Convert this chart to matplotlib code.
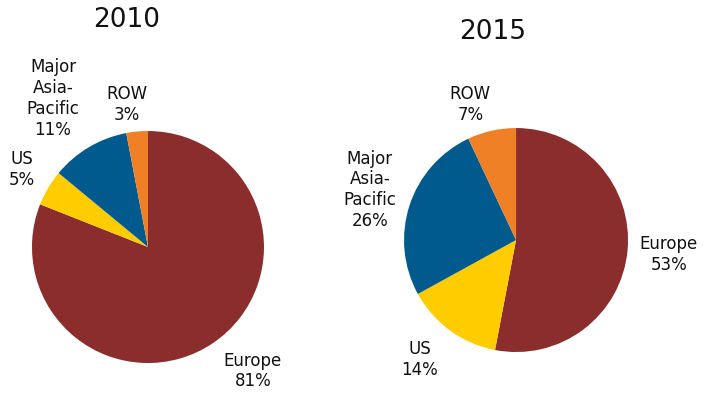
import numpy as np
import matplotlib
matplotlib.use('Agg')
import matplotlib.pyplot as plt

# ============================================================
# DATA
# ============================================================
regions = ['Europe', 'US', 'Major\nAsia-\nPacific', 'ROW']
share_2010 = [81, 5, 11, 3]
share_2015 = [53, 14, 26, 7]
years = ['2010', '2015']

colors = ['#8B2D2D', '#FFCC00', '#005A8E', '#F08026']

# label placement: (distance in radii, angle nudge in degrees)
label_pos_2010 = [(1.40, 6), (1.28, -1), (1.52, 2), (1.24, 3)]
label_pos_2015 = [(1.37, 0), (1.37, -3), (1.38, -1), (1.28, 6)]

# ============================================================
# FIGURE
# ============================================================
plt.rcParams['font.family'] = ['DejaVu Sans']
fig = plt.figure(figsize=(7.13, 3.97), dpi=100)


def draw_pie(rect, values, label_pos):
    ax = fig.add_axes(rect)
    wedges, _ = ax.pie(
        values,
        colors=colors,
        startangle=90,
        counterclock=False,
        wedgeprops=dict(linewidth=0),
    )
    for w, name, v, (dist, nudge) in zip(wedges, regions, values, label_pos):
        mid = np.deg2rad(0.5 * (w.theta1 + w.theta2) + nudge)
        ax.text(
            dist * np.cos(mid), dist * np.sin(mid),
            f'{name}\n{v}%',
            ha='center', va='center',
            fontsize=12, linespacing=1.2, color='#111111',
        )
    ax.set_xlim(-1.05, 1.05)
    ax.set_ylim(-1.05, 1.05)
    ax.set_aspect('equal')
    ax.axis('off')
    return ax


draw_pie([0.0367, 0.0710, 0.3417, 0.6136], share_2010, label_pos_2010)
draw_pie([0.5588, 0.0992, 0.3299, 0.5924], share_2015, label_pos_2015)

fig.text(127 / 713, 1 - 20 / 397, years[0], ha='center', va='center',
         fontsize=19, color='#111111')
fig.text(493 / 713, 1 - 32 / 397, years[1], ha='center', va='center',
         fontsize=19, color='#111111')

fig.savefig('out.png', dpi=100)
